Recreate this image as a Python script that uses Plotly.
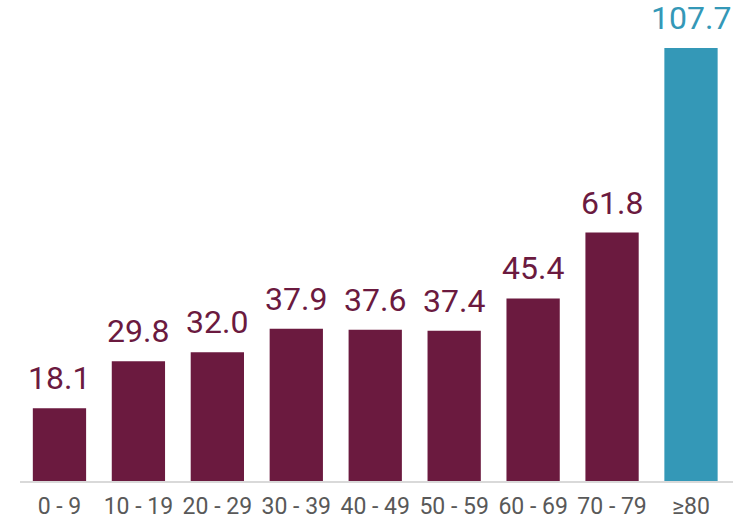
import plotly.graph_objects as go

categories = ["0 - 9", "10 - 19", "20 - 29", "30 - 39", "40 - 49", "50 - 59", "60 - 69", "70 - 79", "≥80"]
values = [18.1, 29.8, 32.0, 37.9, 37.6, 37.4, 45.4, 61.8, 107.7]
labels = ["18.1", "29.8", "32.0", "37.9", "37.6", "37.4", "45.4", "61.8", "107.7"]

maroon = "#6B1A3F"
teal = "#3498B7"
colors = [maroon] * 8 + [teal]

FONT = "Roboto, sans-serif"

fig = go.Figure(go.Bar(
    x=categories, y=values,
    marker=dict(color=colors, line=dict(width=0)),
    cliponaxis=False,
))

for c, v, t, col in zip(categories, values, labels, colors):
    fig.add_annotation(x=c, y=v, text=t, showarrow=False, yanchor="bottom",
                       yshift=9, font=dict(size=32, color=col, family=FONT))

plot_top_page = 10
baseline_page = 481
px_per = 433 / 107.7
plot_h = baseline_page - plot_top_page
fig.update_layout(
    width=749, height=522,
    margin=dict(l=20, r=16, t=plot_top_page, b=522 - baseline_page, autoexpand=False),
    plot_bgcolor="white", paper_bgcolor="white",
    bargap=0.325, showlegend=False,
    font=dict(family=FONT),
    xaxis=dict(showline=True, linecolor="#D9D9D9", linewidth=2, ticks="",
               tickangle=0, ticklabelstandoff=3,
               tickfont=dict(size=23, color="#595959", family=FONT),
               showgrid=False, automargin=False),
    yaxis=dict(visible=False, range=[0, plot_h / px_per], showgrid=False, automargin=False),
)
fig.write_html("out.html", config={"displayModeBar": False},
               post_script="document.body.style.margin='0';document.body.style.overflow='hidden';")
